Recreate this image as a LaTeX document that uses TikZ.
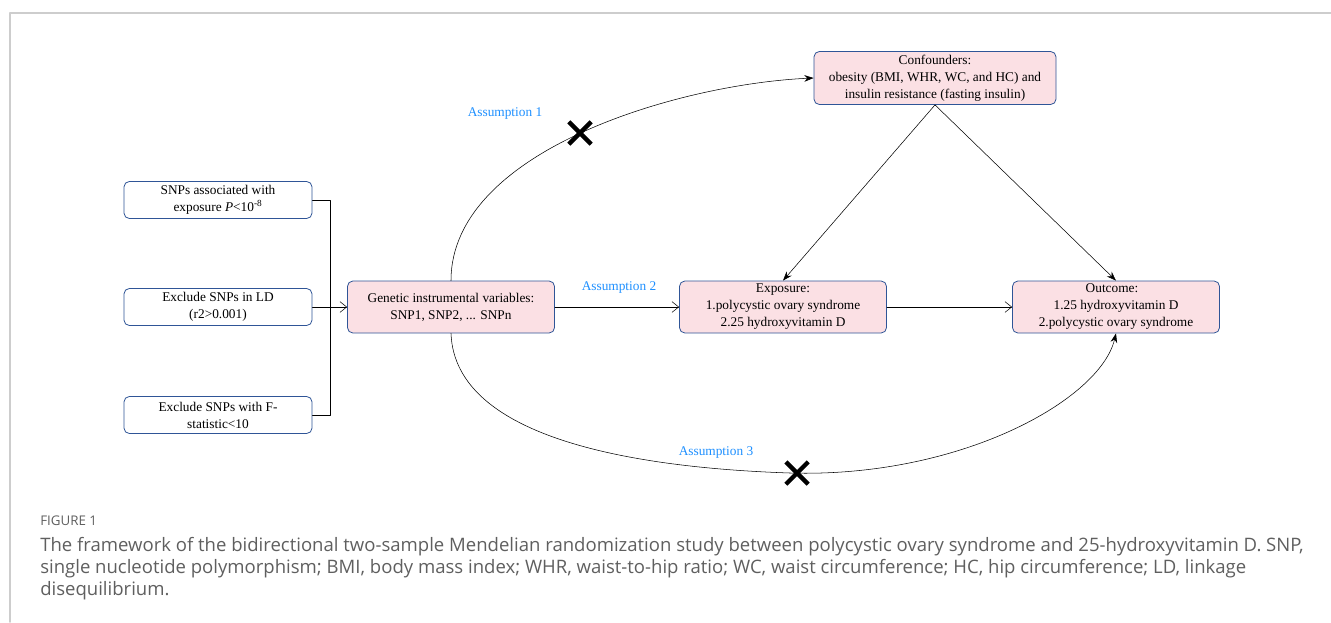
\documentclass[tikz,border=0pt]{standalone}
\usepackage{fontspec}
\setmainfont{Liberation Serif}
\newfontfamily\capfont{Open Sans}
\usetikzlibrary{arrows.meta,shapes.misc}
\definecolor{boxblue}{RGB}{47,85,151}
\definecolor{boxpink}{RGB}{251,224,228}
\definecolor{asmblue}{RGB}{30,144,255}
\definecolor{capgray}{RGB}{95,95,95}
\definecolor{framegray}{RGB}{205,205,205}
\begin{document}
\begin{tikzpicture}[x=0.75pt, y=-0.75pt, line join=round, line cap=round,
	font=\fontsize{10}{12.75}\selectfont,
	openarr/.style={-{Straight Barb[length=5pt,width=8pt]}},
	fillarr/.style={-{Stealth[length=7pt,width=5pt]}},
	stepbox/.style={draw=boxblue, semithick, rounded corners=4pt, fill=white, align=center,
		minimum width=141pt, minimum height=27.75pt, inner sep=1pt},
	mainbox/.style={stepbox, fill=boxpink, minimum width=155.25pt, minimum height=39pt},
	asm/.style={text=asmblue, font=\fontsize{10}{11}\selectfont, fill=white, inner sep=1pt},
	xmark/.style={draw, cross out, line width=3.2pt, line cap=butt, minimum size=13.5pt, inner sep=0pt}]
	\useasboundingbox (0,0) rectangle (1331,622);
	% page frame
	\draw[framegray, line width=1.2pt] (1331,13) -- (10,13) -- (10,622);
	% SNP selection
	\node[stepbox] (sel1) at (218,200) {SNPs associated with\\exposure \textit{P}<10\textsuperscript{-8}};
	\node[stepbox] (sel2) at (218,307) {Exclude SNPs in LD\\(r2>0.001)};
	\node[stepbox] (sel3) at (218,415) {Exclude SNPs with F-\\statistic<10};
	\coordinate (join) at (330,307);
	\draw (sel1.east) -| (join);
	\draw (sel3.east) -| (join);
	% main boxes
	\node[mainbox] (gen) at (451,307) {Genetic instrumental variables:\\SNP1, SNP2, ... SNPn};
	\node[mainbox] (expo) at (783,307) {Exposure:\\1.polycystic ovary syndrome\\2.25 hydroxyvitamin D};
	\node[mainbox] (outc) at (1116,307) {Outcome:\kern0.6em\\1.25 hydroxyvitamin D\\2.polycystic ovary syndrome};
	\node[mainbox, minimum width=181.5pt, minimum height=39.75pt] (conf) at (935,78)
		{Confounders:\\obesity (BMI, WHR, WC, and HC) and\\insulin resistance (fasting insulin)};
	\draw[openarr] (sel2.east) -- (gen.west);
	\draw[openarr] (gen.east) -- (expo.west);
	\draw[openarr] (expo.east) -- (outc.west);
	\draw[fillarr] (conf.south) -- (expo.north);
	\draw[fillarr] (conf.south) -- (outc.north);
	% assumptions
	\draw[fillarr] (gen.north) .. controls (451,150) and (680,84) .. (conf.west);
	\draw[fillarr] (gen.south) .. controls (455,440) and (640,468) .. (790,473)
		.. controls (960,478) and (1100,400) .. (outc.south);
	\node[asm] (asm1) at (505,113) {Assumption 1};
	\node[asm] (asm2) at (619,287) {Assumption 2};
	\node[asm] (asm3) at (716,452) {Assumption 3};
	\node[xmark] (no1) at (580,133) {};
	\node[xmark] (no3) at (797,473) {};
	% caption
	\node[anchor=west, text=capgray, font=\capfont\fontsize{10}{10}\selectfont, inner sep=0pt] (fig) at (40,521) {FIGURE 1};
	\node[anchor=north west, text=capgray, align=left, inner sep=0pt,
		font=\capfont\fontsize{13.9}{16.5}\selectfont] (cap) at (40,537)
		{The framework of the bidirectional two-sample Mendelian randomization study between polycystic ovary syndrome and 25-hydroxyvitamin D. SNP,\\
		single nucleotide polymorphism; BMI, body mass index; WHR, waist-to-hip ratio; WC, waist circumference; HC, hip circumference; LD, linkage\\
		disequilibrium.};
\end{tikzpicture}
\end{document}
